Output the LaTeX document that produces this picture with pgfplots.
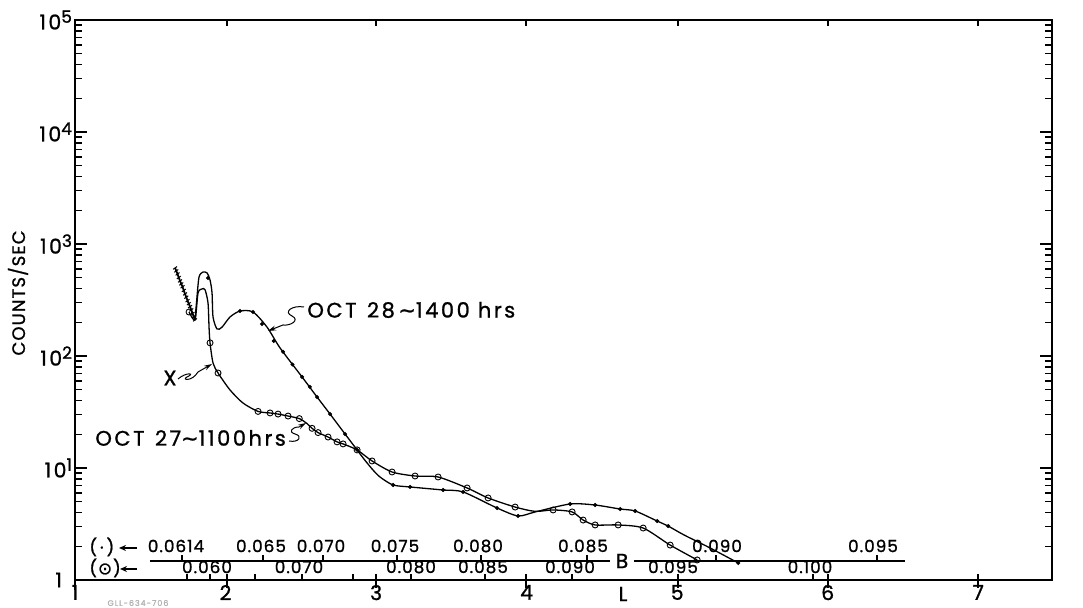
\documentclass[border=0pt]{standalone}
\usepackage{pgfplots}
\pgfplotsset{compat=1.18}
\usepackage{fontspec}
\setmainfont{Poppins}[LetterSpace=12, FakeBold=1.1]
\newfontfamily\bfam{Poppins}[LetterSpace=6, FakeBold=1.1]
\newfontfamily\sym{DejaVu Sans}[FakeBold=1.1]
\usetikzlibrary{arrows.meta}

\newcommand\lf{\fontsize{10.2}{12}\selectfont}
\newcommand\expo[1]{\raisebox{0.6ex}{\fontsize{8.5}{9}\selectfont #1}}
\newcommand\bsf{\bfam\fontsize{8.4}{10}\selectfont}
\newcommand\tf{\fontsize{10.5}{12}\selectfont}

\begin{document}
\begin{tikzpicture}
\useasboundingbox (0,0) rectangle (541.5pt,304pt);
\begin{axis}[
  at={(37.5pt,14pt)}, anchor=south west,
  scale only axis, width=488.5pt, height=280pt,
  xmin=1, xmax=7.49, ymin=1, ymax=1e5, ymode=log,
  axis line style={line width=0.9pt},
  tick style={line width=0.7pt, black},
  tick align=inside,
  major tick length=6pt, minor tick length=3.5pt,
  xtick={1,2,3,4,5,6,7},
  xticklabels={1,2,3,4,5,6,7},
  xtick style={draw=none},
  ytick={1,10,100,1000,10000,100000},
  yticklabels={1\kern5pt,10\expo{1},10\expo{2},10\expo{3},10\expo{4},10\expo{5}},
  every tick label/.append style={font=\lf},
  yticklabel style={xshift=2pt},
  xticklabel style={yshift=1pt},
  clip=false,
]
% OCT 28 ~1400 hrs, scratchy left arm
\addplot[black, line width=0.9pt, mark=-, mark size=1.2pt, mark options={rotate=35, line width=0.5pt}]
  coordinates {(1.6645,611)(1.6728,575)(1.6811,540)(1.6894,502)(1.6977,468)(1.7060,440)
               (1.7143,415)(1.7226,385)(1.7309,358)(1.7392,335)(1.7475,312)(1.7558,293)
               (1.7641,276)(1.7724,258)(1.7807,240)(1.7890,225)(1.7973,210)};
% OCT 28 ~1400 hrs curve
\addplot[black, line width=0.65pt, smooth, tension=0.45] coordinates {
  (1.7973,210)(1.8086,316)(1.8239,507)(1.8505,562)(1.8771,551)(1.8970,477)
  (1.9103,365)(1.9169,223)(1.9435,174)(1.9767,181)(2.0299,223)(2.0963,252)
  (2.1827,247)(2.2757,181)(2.3621,118)(2.5083,65)(2.6080,43)(2.6944,30.3)
  (2.7940,20.1)(2.8738,14.5)(2.9136,12.3)(2.9734,9.8)(3.0266,8.3)(3.1130,7.05)
  (3.2259,6.77)(3.4452,6.36)(3.5781,6.11)(3.8040,4.39)(3.9435,3.73)(4.0565,4.05)
  (4.2890,4.77)(4.4551,4.67)(4.6213,4.30)(4.7209,4.13)(4.8671,3.36)(4.9402,3.03)
  (5.0465,2.52)(5.2193,1.93)(5.4053,1.42)};
\addplot[only marks, mark=*, mark size=0.8pt, black] coordinates {
  (1.8837,497)(2.0963,252)(2.1827,247)(2.2425,193)(2.3200,136)(2.3821,109)(2.4450,84)
  (2.5083,65)(2.5600,53)(2.6080,43)(2.6944,30.3)(2.7940,20.1)(2.8738,14.5)(3.1130,7.05)
  (3.2259,6.77)(3.4452,6.36)(3.5781,6.11)(3.8040,4.39)(3.9435,3.73)(4.2890,4.77)
  (4.4551,4.67)(4.6213,4.30)(4.7209,4.13)(4.8671,3.36)(4.9402,3.03)(5.4053,1.42)};
% OCT 27 ~1100 hrs curve
\addplot[black, line width=0.65pt, smooth, tension=0.45] coordinates {
  (1.7575,247)(1.7973,210)(1.8173,365)(1.8439,397)(1.8638,390)(1.8837,297)
  (1.8904,181)(1.8970,131)(1.9169,86.6)(1.9502,70.5)(2.0299,49.7)(2.1163,38.0)
  (2.2159,32.0)(2.2957,31.0)(2.3488,30.3)(2.4153,29.1)(2.4900,27.6)(2.5400,25.0)
  (2.5748,22.6)(2.6146,20.7)(2.6811,18.9)(2.7409,17.1)(2.7807,16.4)(2.8738,14.5)
  (2.9734,11.55)(3.1063,9.21)(3.2591,8.48)(3.4120,8.31)(3.6047,6.63)(3.7442,5.40)
  (3.9236,4.48)(4.0565,4.10)(4.1761,4.22)(4.3023,4.05)(4.3754,3.43)(4.4551,3.10)
  (4.6080,3.10)(4.7741,2.91)(4.9535,2.05)(5.1329,1.51)};
\addplot[only marks, mark=o, mark size=1.5pt, mark options={line width=0.45pt}, black] coordinates {
  (1.7575,247)(1.8970,131)(1.9502,70.5)(2.2159,32.0)(2.2957,31.0)(2.3488,30.3)
  (2.4153,29.1)(2.4900,27.6)(2.5748,22.6)(2.6146,20.7)(2.6811,18.9)(2.7409,17.1)
  (2.7807,16.4)(2.8738,14.5)(2.9734,11.55)(3.1063,9.21)(3.2591,8.48)(3.4120,8.31)
  (3.6047,6.63)(3.7442,5.40)(3.9236,4.48)(4.1761,4.22)(4.3023,4.05)(4.3754,3.43)
  (4.4551,3.10)(4.6080,3.10)(4.7741,2.91)(4.9535,2.05)(5.1329,1.51)};
\end{axis}

% annotations in reference pixel units
\begin{scope}[x=0.5pt, y=-0.5pt, yshift=304pt]
  % x ticks
  \foreach \p in {227,376,526,678,828,978}{
    \draw[line width=0.8pt] (\p,574) -- (\p,588);
    \draw[line width=0.8pt] (\p,20) -- (\p,26);
  }
  \draw[line width=0.9pt] (75,580) -- (75,590);
  \node[font=\lf] at (623,594) {L};
  % y label
  \node[rotate=90, font=\bfam\fontsize{9}{10}\selectfont] at (18,293) {COUNTS/SEC};
  % B scale (upper, dots)
  \draw[line width=0.6pt] (150,561) -- (610,561) (634,561) -- (905,561);
  \node[font=\lf] at (622,561) {B};
  \foreach \p in {182,263,323,397,481,587,716,877}
    \draw[line width=0.6pt] (\p,561) -- (\p,555);
  \foreach \p/\t in {176/0.0614,261/0.065,321/0.070,395/0.075,478/0.080,583/0.085,717/0.090,873/0.095}
    \node[font=\bsf] at (\p,546) {\t};
  % B scale (lower, circles)
  \foreach \p in {187,210,255,302,353,411,485,572,813}
    \draw[line width=0.6pt] (\p,580) -- (\p,574);
  \foreach \p/\t in {207/0.060,299/0.070,411/0.080,483/0.085,570/0.090,673/0.095,810/0.100}
    \node[font=\bsf] at (\p,567) {\t};
  \node[font=\bsf, anchor=west, inner sep=0pt] at (89,547) {(\kern1.5pt·\kern1.5pt)};
  \node[font=\bsf, anchor=west, inner sep=0pt] at (89,568) {(\kern0.5pt{\sym ⊙}\kern0.5pt)};
  \draw[line width=0.7pt, -{Stealth[length=3.5pt,width=3pt]}] (137,548) -- (119,548);
  \draw[line width=0.7pt, -{Stealth[length=3.5pt,width=3pt]}] (137,569) -- (120,569);
  % curve labels
  \node[font=\tf, anchor=west, inner sep=0pt] at (307,310) {OCT\enspace 28\,{\sym ∼}1400 hrs};
  \node[font=\tf] at (170,378) {X};
  \node[font=\tf, anchor=west, inner sep=0pt] at (95,438) {OCT\enspace 27{\sym ∼}1100hrs};
  \draw[line width=0.5pt, -{Stealth[length=4pt,width=2.4pt]}]
    (304,307) .. controls (292,305) and (283,312) .. (292,316)
    .. controls (300,320) and (291,326) .. (283,325) -- (268,331);
  \draw[line width=0.5pt, -{Stealth[length=4pt,width=2.4pt]}]
    (178,379) .. controls (186,372) and (196,373) .. (187,377)
    .. controls (181,380) and (192,382) .. (198,372) -- (212,364);
  \draw[line width=0.5pt, -{Stealth[length=4pt,width=2.4pt]}]
    (289,441) .. controls (299,443) and (303,436) .. (295,434)
    .. controls (288,432) and (292,427) .. (299,427) -- (306,423);
  \node[font=\fontsize{4}{5}\selectfont, text=gray!60] at (138,603) {GLL-634-706};
\end{scope}
\end{tikzpicture}
\end{document}
